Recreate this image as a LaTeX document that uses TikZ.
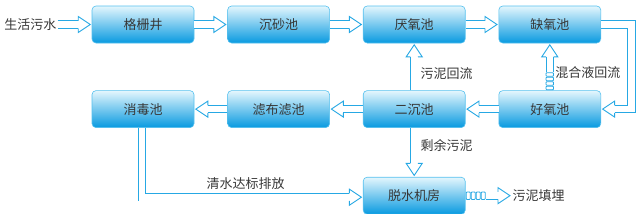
\documentclass[tikz,border=0pt]{standalone}
\usepackage{fontspec}
\setmainfont{Noto Sans CJK SC}
\usetikzlibrary{positioning, calc}
\definecolor{pipeblue}{RGB}{38,168,228}
\definecolor{boxtop}{RGB}{228,246,253}
\definecolor{boxbot}{RGB}{8,154,224}
\definecolor{boxline}{RGB}{84,192,238}
\definecolor{txt}{RGB}{55,55,55}

% hollow arrow head, pointing from #1 to #2
\newcommand{\arrowhead}[2]{%
  \coordinate (ba-t) at ($(#2)!1.5pt!(#1)$);
  \coordinate (ba-b) at ($(ba-t)!12pt!(#1)$);
  \draw[pipehead] ($(ba-b)!3.75pt!90:(ba-t)$) -- ($(ba-b)!8pt!90:(ba-t)$) -- (ba-t)
        -- ($(ba-b)!8pt!-90:(ba-t)$) -- ($(ba-b)!3.75pt!-90:(ba-t)$);}
% straight hollow arrow, #3 = label node or empty
\newcommand{\blockarrow}[3]{%
  \arrowhead{#1}{#2}
  \draw[pipe] (#1) -- #3 (ba-b);}

\begin{document}
\begin{tikzpicture}[
    x=1pt, y=1pt,
    every node/.style={font=\fontsize{13}{15}\selectfont, text=txt},
    node distance = 47pt and 33pt,
    tank/.style  ={draw=boxline, rounded corners=4pt, line width=0.6pt,
                   top color=boxtop, bottom color=boxbot,
                   minimum width=102pt, minimum height=37pt, inner sep=2pt},
    lbl/.style   ={inner sep=1pt},
    pipe/.style  ={draw=pipeblue, line width=0.9pt, double=white,
                   double distance=6.6pt, line join=miter},
    pipehead/.style={draw=pipeblue, fill=white, line width=0.9pt, line join=miter},
    cell/.style  ={draw=pipeblue, fill=white, line width=0.8pt, rounded corners=0.8pt},
]
\useasboundingbox (0,0) rectangle (638,-214);

% top row
\node[tank] (gs) at (143,-24.5) {格栅井};
\node[tank, right=of gs] (cs) {沉砂池};
\node[tank, right=of cs] (yy) {厌氧池};
\node[tank, right=of yy] (qy) {缺氧池};
% middle row
\node[tank, below=of qy] (hy) {好氧池};
\node[tank, left=of hy]  (ec) {二沉池};
\node[tank, left=of ec]  (lb) {滤布滤池};
\node[tank, left=of lb]  (xd) {消毒池};
% bottom row
\node[tank, below=49pt of ec] (ts) {脱水机房};

\node[lbl, left=34pt of gs]  (src) {生活污水};
\node[lbl, right=46pt of ts] (tm)  {污泥填埋};

\blockarrow{src.east}{gs.west}{}
\blockarrow{gs.east}{cs.west}{}
\blockarrow{cs.east}{yy.west}{}
\blockarrow{yy.east}{qy.west}{}
\blockarrow{hy.west}{ec.east}{}
\blockarrow{ec.west}{lb.east}{}
\blockarrow{lb.west}{xd.east}{}
\blockarrow{ec.north}{yy.south}{node[lbl, right=5pt]{污泥回流}}
\blockarrow{ec.south}{ts.north}{node[lbl, right=5pt]{剩余污泥}}

% mixed liquor return, dashed lower part
\coordinate (m1) at ($(hy.north)+(0,18)$);
\arrowhead{m1}{qy.south}
\draw[pipe] (m1) -- node[lbl, right=4pt, pos=0]{混合液回流} (ba-b);
\foreach \d in {0,4.5,9,13.5}
  \draw[cell] ($(hy.north)+(-3.75,\d+0.6)$) rectangle ++(7.5,3.5);

% sludge to landfill, dashed first part
\coordinate (s1) at ($(ts.east)+(20,0)$);
\arrowhead{s1}{tm.west}
\draw[pipe] (s1) -- (ba-b);
\foreach \d in {0,5,10,15}
  \draw[cell] ($(ts.east)+(\d+0.7,-3.75)$) rectangle ++(4,7.5);

% return loop on the right
\coordinate (r1) at ($(qy.east)+(30.5,0)$);
\coordinate (r2) at (r1 |- hy.east);
\arrowhead{r2}{hy.east}
\draw[pipe] (qy.east) -- (r1) -- (r2) -- (ba-b);

% clean water out
\coordinate (d1) at ($(xd.south |- ts.west)+(-1,-1.5)$);
\coordinate (d2) at ($(ts.west)+(0,-1.5)$);
\arrowhead{d1}{d2}
\draw[pipe] ($(xd.south)+(-1,0)$) -- (d1) -- node[lbl, above=6pt]{清水达标排放} (ba-b);
\end{tikzpicture}
\end{document}
